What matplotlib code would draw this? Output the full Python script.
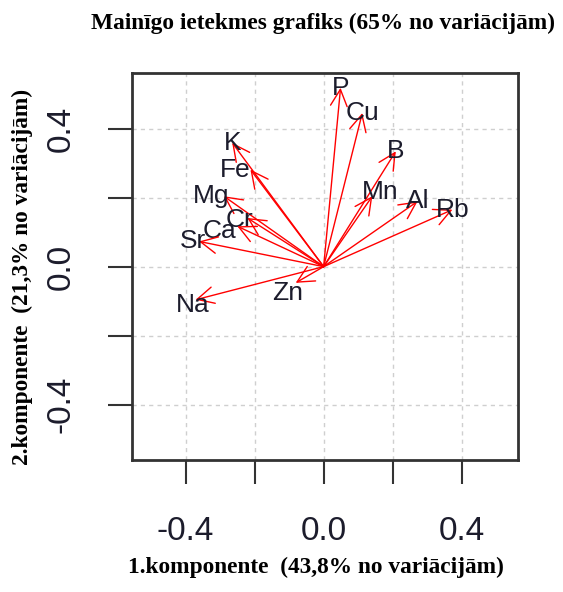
"""
Variable factor map for the first two principal components:
one arrow per element from the origin to its loadings.
"""
import matplotlib.pyplot as plt
import numpy as np

variables = ["P", "Cu", "B", "Mn", "Al", "Rb", "K", "Fe", "Mg", "Cr", "Ca", "Sr", "Na", "Zn"]
pc1 = [0.049, 0.112, 0.209, 0.141, 0.272, 0.373, -0.265, -0.212, -0.289, -0.221, -0.250, -0.361, -0.371, -0.081]
pc2 = [0.518, 0.445, 0.334, 0.204, 0.189, 0.165, 0.359, 0.281, 0.204, 0.141, 0.117, 0.073, -0.096, -0.047]

tick_values = [-0.4, -0.2, 0.0, 0.2, 0.4]
tick_labels = ["-0.4", "", "0.0", "", "0.4"]

title = "Mainīgo ietekmes grafiks (65% no variācijām)"
x_title = "1.komponente  (43,8% no variācijām)"
y_title = "2.komponente  (21,3% no variācijām)"

# small nudges (pixels) so overlapping names stay readable
label_nudge = {
    "Mn": (8, 4), "Fe": (-15, 0), "Mg": (-13, 0), "Cr": (-8, -2),
    "Ca": (-18, -5), "Sr": (-6, 0), "Na": (-3, -5), "Zn": (-8, -10),
}

text_color = "#1c1c2c"

fig = plt.figure(figsize=(5.63, 5.92), dpi=100)
ax = fig.add_axes([0.2345, 0.223, 0.6856, 0.6532])
ax.set_xlim(-0.555, 0.563)
ax.set_ylim(-0.56, 0.56)

for v in tick_values:
    ax.axvline(v, color="#cfcfcf", lw=1.0, ls=(0, (3, 3)), zorder=0)
    ax.axhline(v, color="#cfcfcf", lw=1.0, ls=(0, (3, 3)), zorder=0)

for name, x, y in zip(variables, pc1, pc2):
    ax.annotate("", xy=(x, y), xytext=(0, 0),
                arrowprops=dict(arrowstyle="->", color="red", lw=1.0,
                                mutation_scale=30, shrinkA=0, shrinkB=0))
    dx, dy = label_nudge.get(name, (0, 0))
    ax.annotate(name, xy=(x, y), xytext=(dx, dy), textcoords="offset pixels",
                ha="center", va="center", fontsize=19, color=text_color,
                family="Liberation Sans", zorder=3)

ax.set_xticks(tick_values)
ax.set_xticklabels(tick_labels)
ax.set_yticks(tick_values)
ax.set_yticklabels(tick_labels, rotation=90, va="center")
ax.tick_params(axis="both", length=17, width=1.5, color="#333333",
               labelsize=24, labelcolor=text_color, pad=23)
for label in ax.get_xticklabels() + ax.get_yticklabels():
    label.set_family("Liberation Sans")

for spine in ax.spines.values():
    spine.set_linewidth(2.0)
    spine.set_color("#333333")

fig.text(0.574, 0.961, title, ha="center", va="center", fontsize=16.8,
         fontweight="bold", family="Liberation Serif")
fig.text(0.562, 0.041, x_title, ha="center", va="center", fontsize=16.8,
         fontweight="bold", family="Liberation Serif")
fig.text(0.039, 0.532, y_title, ha="center", va="center", rotation=90,
         fontsize=16.8, fontweight="bold", family="Liberation Serif")

fig.savefig("out.png", dpi=100)
